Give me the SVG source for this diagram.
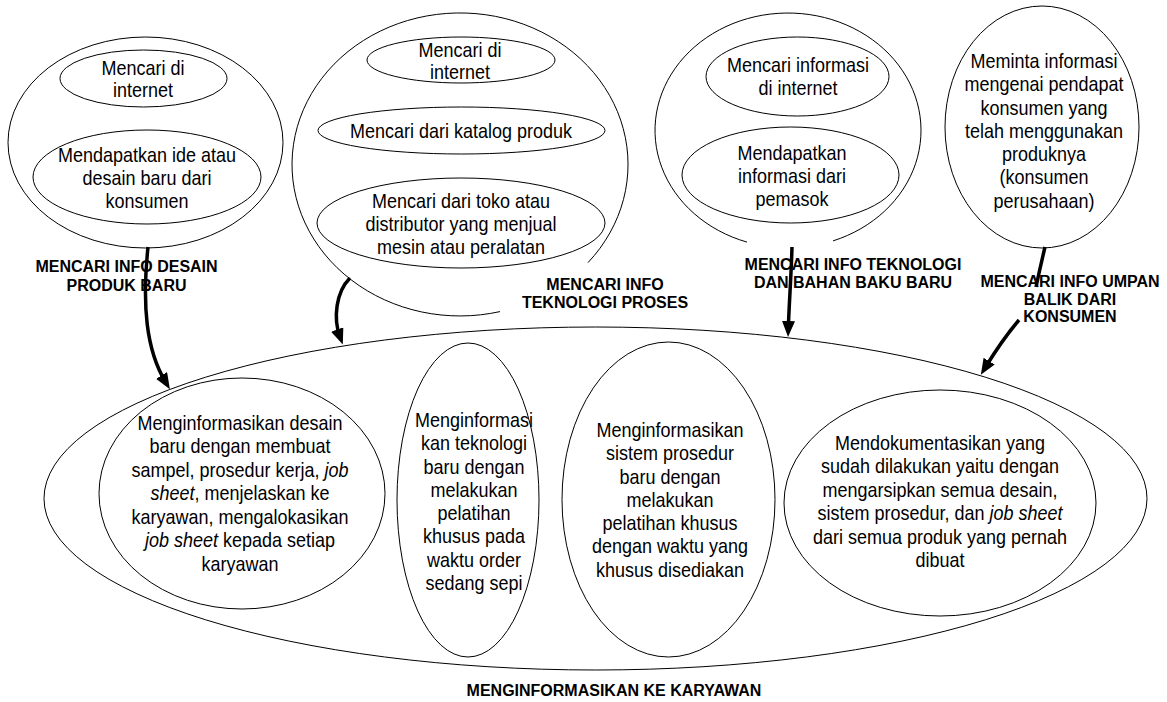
<svg xmlns="http://www.w3.org/2000/svg" width="1167" height="702" viewBox="0 0 1167 702">
<style>
.s{fill:none;stroke:#000;stroke-width:1}
.t{font-family:'Liberation Sans',Arial,sans-serif;font-size:21px;fill:#000;text-anchor:middle}
.lb{font-family:'Liberation Sans',Arial,sans-serif;font-size:16px;font-weight:bold;fill:#000;text-anchor:middle}
.a{fill:none;stroke:#000;stroke-width:3.5}
.i{font-style:italic}
</style>
<defs>
<marker id="ah" viewBox="0 0 16 13" markerWidth="16" markerHeight="13" refX="8" refY="6.5" markerUnits="userSpaceOnUse" orient="auto">
<path d="M0,0 L16,6.5 L0,13 z" fill="#000"/>
</marker>
</defs>
<rect width="1167" height="702" fill="#fff"/>

<g id="cluster-desain">
<ellipse class="s" cx="145.5" cy="142.5" rx="137.5" ry="105.5"/>
<g id="n-desain-internet">
<ellipse class="s" cx="143.5" cy="78.5" rx="83.5" ry="28.5"/>
<text class="t" transform="translate(143,0) scale(0.857,1)"><tspan x="0" y="75">Mencari di</tspan><tspan x="0" y="97">internet</tspan></text>
</g>
<g id="n-desain-konsumen">
<ellipse class="s" cx="147" cy="177" rx="114" ry="47"/>
<text class="t" transform="translate(147,0) scale(0.857,1)"><tspan x="0" y="162">Mendapatkan ide atau</tspan><tspan x="0" y="185">desain baru dari</tspan><tspan x="0" y="208">konsumen</tspan></text>
</g>
<text class="lb"><tspan x="126.5" y="272">MENCARI INFO DESAIN</tspan><tspan x="126.5" y="291">PRODUK BARU</tspan></text>
</g>

<g id="cluster-proses">
<path class="s" d="M500,311.6 A168,151.5 0 1 1 588,262.6"/>
<g id="n-proses-internet">
<ellipse class="s" cx="461" cy="60" rx="94" ry="23"/>
<text class="t" transform="translate(460,0) scale(0.857,1)"><tspan x="0" y="57">Mencari di</tspan><tspan x="0" y="79">internet</tspan></text>
</g>
<g id="n-proses-katalog">
<ellipse class="s" cx="461.5" cy="130.5" rx="143.5" ry="23.5"/>
<text class="t" transform="translate(461,0) scale(0.857,1)"><tspan x="0" y="138">Mencari dari katalog produk</tspan></text>
</g>
<g id="n-proses-toko">
<ellipse class="s" cx="461" cy="223" rx="144" ry="45"/>
<text class="t" transform="translate(461,0) scale(0.857,1)"><tspan x="0" y="208">Mencari dari toko atau</tspan><tspan x="0" y="231">distributor yang menjual</tspan><tspan x="0" y="254">mesin atau peralatan</tspan></text>
</g>
<text class="lb"><tspan x="605" y="290">MENCARI INFO</tspan><tspan x="605" y="308">TEKNOLOGI PROSES</tspan></text>
</g>

<g id="cluster-bahan">
<path class="s" d="M747,242.1 A133,117.4 0 1 1 833,240.9"/>
<g id="n-bahan-internet">
<ellipse class="s" cx="797.5" cy="76.5" rx="91.5" ry="39.5"/>
<text class="t" transform="translate(798,0) scale(0.857,1)"><tspan x="0" y="72">Mencari informasi</tspan><tspan x="0" y="95">di internet</tspan></text>
</g>
<g id="n-bahan-pemasok">
<ellipse class="s" cx="790.5" cy="175" rx="108.5" ry="48"/>
<text class="t" transform="translate(792,0) scale(0.857,1)"><tspan x="0" y="160">Mendapatkan</tspan><tspan x="0" y="183">informasi dari</tspan><tspan x="0" y="206">pemasok</tspan></text>
</g>
<text class="lb"><tspan x="853" y="270">MENCARI INFO TEKNOLOGI</tspan><tspan x="853" y="288">DAN BAHAN BAKU BARU</tspan></text>
</g>

<g id="cluster-umpan">
<g id="n-umpan">
<ellipse class="s" cx="1042" cy="127" rx="97" ry="121"/>
<text class="t" transform="translate(1044,0) scale(0.857,1)"><tspan x="0" y="68">Meminta informasi</tspan><tspan x="0" y="91.3">mengenai pendapat</tspan><tspan x="0" y="114.6">konsumen yang</tspan><tspan x="0" y="137.9">telah menggunakan</tspan><tspan x="0" y="161.2">produknya</tspan><tspan x="0" y="184.5">(konsumen</tspan><tspan x="0" y="207.8">perusahaan)</tspan></text>
</g>
<text class="lb"><tspan x="1070" y="287">MENCARI INFO UMPAN</tspan><tspan x="1070" y="305">BALIK DARI</tspan><tspan x="1070" y="322">KONSUMEN</tspan></text>
</g>

<g id="cluster-karyawan">
<ellipse class="s" cx="595.5" cy="498.5" rx="551.5" ry="171.5"/>
<g id="n-k-desain">
<ellipse class="s" cx="242" cy="493.5" rx="143" ry="115.5"/>
<text class="t" transform="translate(240,0) scale(0.857,1)"><tspan x="0" y="430">Menginformasikan desain</tspan><tspan x="0" y="453.5">baru dengan membuat</tspan><tspan x="0" y="477">sampel, prosedur kerja, <tspan class="i">job</tspan></tspan><tspan x="0" y="500.5"><tspan class="i">sheet</tspan>, menjelaskan ke</tspan><tspan x="0" y="524">karyawan, mengalokasikan</tspan><tspan x="0" y="547.5"><tspan class="i">job sheet</tspan> kepada setiap</tspan><tspan x="0" y="571">karyawan</tspan></text>
</g>
<g id="n-k-teknologi">
<ellipse class="s" cx="468" cy="500" rx="71" ry="157"/>
<text class="t" transform="translate(474,0) scale(0.857,1)"><tspan x="0" y="427">Menginformasi</tspan><tspan x="0" y="450.3">kan teknologi</tspan><tspan x="0" y="473.6">baru dengan</tspan><tspan x="0" y="496.9">melakukan</tspan><tspan x="0" y="520.2">pelatihan</tspan><tspan x="0" y="543.5">khusus pada</tspan><tspan x="0" y="566.8">waktu order</tspan><tspan x="0" y="590.1">sedang sepi</tspan></text>
</g>
<g id="n-k-prosedur">
<ellipse class="s" cx="668.5" cy="499.5" rx="106.5" ry="157.5"/>
<text class="t" transform="translate(670,0) scale(0.857,1)"><tspan x="0" y="437">Menginformasikan</tspan><tspan x="0" y="460.3">sistem prosedur</tspan><tspan x="0" y="483.6">baru dengan</tspan><tspan x="0" y="506.9">melakukan</tspan><tspan x="0" y="530.2">pelatihan khusus</tspan><tspan x="0" y="553.5">dengan waktu yang</tspan><tspan x="0" y="576.8">khusus disediakan</tspan></text>
</g>
<g id="n-k-dokumentasi">
<ellipse class="s" cx="940" cy="503" rx="156" ry="113"/>
<text class="t" transform="translate(940,0) scale(0.857,1)"><tspan x="0" y="450">Mendokumentasikan yang</tspan><tspan x="0" y="473.5">sudah dilakukan yaitu dengan</tspan><tspan x="0" y="497">mengarsipkan semua desain,</tspan><tspan x="0" y="520.5">sistem prosedur, dan <tspan class="i">job sheet</tspan></tspan><tspan x="0" y="544">dari semua produk yang pernah</tspan><tspan x="0" y="567.5">dibuat</tspan></text>
</g>
<text class="lb" x="614" y="696">MENGINFORMASIKAN KE KARYAWAN</text>
</g>

<g id="connectors">
<path class="a" d="M148,247 C142,305 146,350 165.7,382.3" marker-end="url(#ah)"/>
<path class="a" d="M350,278 C336,292 333,318 340,337" marker-end="url(#ah)"/>
<path class="a" d="M792,247 C791,280 789,305 788.3,329" marker-end="url(#ah)"/>
<path class="a" d="M1045,247 Q1040,268 1036,287"/>
<path class="a" d="M1019,320 Q1002,340 985,368" marker-end="url(#ah)"/>
</g>
</svg>
